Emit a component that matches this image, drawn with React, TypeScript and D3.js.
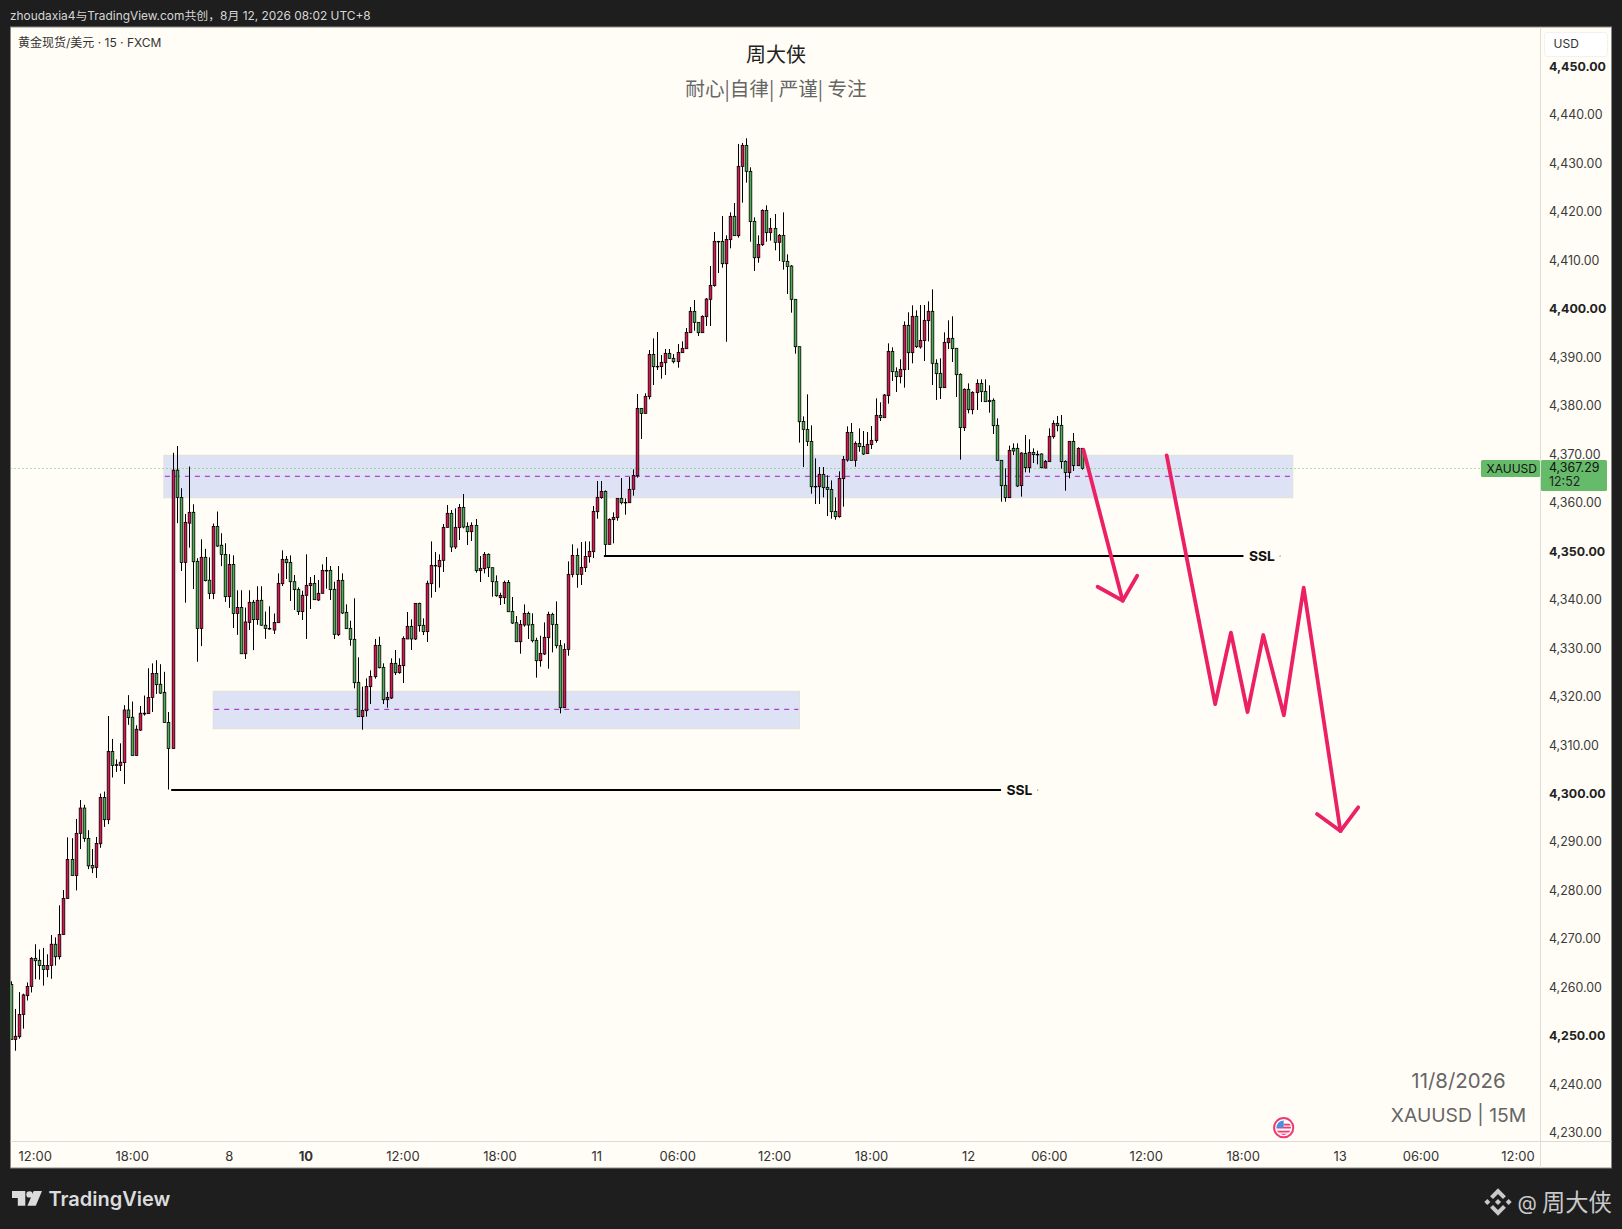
import React, { useRef, useEffect } from 'react';
import * as d3 from 'd3';

//candles, one entry per 15 min bar
const opens = [
  4260.83,4249.47,4250.05,4254.61,4258.51,4260.41,4266.21,4265.80,4264.72,4263.89,
  4264.72,4269.12,4266.55,4271.11,4278.56,4286.60,4283.29,4291.99,4297.21,4290.91,
  4285.36,4284.95,4289.84,4299.37,4294.81,4308.90,4306.16,4306.00,4306.58,4317.44,
  4315.94,4308.07,4313.29,4316.77,4316.69,4320.00,4324.98,4322.74,4321.08,4314.87,
  4309.48,4366.91,4361.28,4347.85,4355.97,4358.21,4348.10,4334.26,4348.93,4344.20,
  4341.47,4355.31,4351.42,4349.51,4340.81,4347.44,4337.33,4338.57,4329.04,4335.50,
  4339.65,4336.08,4340.06,4334.92,4334.26,4333.93,4335.45,4343.49,4348.51,4347.89,
  4343.90,4342.32,4337.72,4341.09,4343.08,4343.56,4340.12,4341.50,4346.24,4346.24,
  4342.32,4332.97,4344.18,4337.58,4334.28,4332.01,4323.14,4316.06,4317.29,4322.25,
  4324.31,4330.77,4326.23,4319.56,4319.91,4327.06,4325.13,4326.58,4332.08,4334.69,
  4332.08,4339.43,4334.90,4333.59,4343.49,4347.27,4346.98,4348.30,4355.11,4358.00,
  4351.05,4355.04,4359.23,4355.31,4354.21,4355.52,4346.17,4346.58,4349.54,4346.79,
  4343.90,4340.60,4340.60,4343.76,4337.78,4335.44,4331.52,4334.96,4337.37,4335.10,
  4331.80,4327.60,4328.98,4332.35,4337.16,4335.10,4330.70,4317.91,4329.94,4345.41,
  4349.33,4345.41,4346.79,4349.06,4350.09,4358.34,4361.23,4362.53,4351.60,4356.69,
  4357.10,4361.09,4360.26,4360.19,4362.95,4365.76,4379.65,4378.62,4382.06,4390.79,
  4388.32,4388.25,4389.07,4391.00,4389.97,4389.28,4391.14,4391.96,4395.26,4399.66,
  4397.39,4395.26,4398.56,4402.14,4404.96,4414.10,4414.10,4409.49,4414.45,4419.26,
  4415.27,4429.57,4433.90,4428.54,4418.23,4410.73,4413.41,4420.49,4415.89,4416.78,
  4413.90,4415.34,4409.98,4409.01,4402.14,4392.37,4376.97,4375.32,4372.84,4363.56,
  4363.49,4366.04,4363.36,4362.94,4358.41,4357.31,4365.15,4368.99,4374.70,4368.93,
  4372.43,4371.81,4370.31,4372.16,4373.00,4378.21,4377.73,4382.27,4391.41,4387.22,
  4386.19,4387.63,4396.78,4391.14,4398.64,4392.31,4393.62,4397.74,4399.67,4388.94,
  4386.88,4383.92,4393.20,4394.10,4392.04,4386.67,4375.67,4383.58,4379.38,4382.89,
  4384.81,4383.16,4381.31,4381.31,4376.15,4368.93,4363.77,4361.23,4371.41,4371.41,
  4363.71,4370.37,4367.42,4370.58,4370.17,4370.24,4367.35,4368.66,4373.81,4376.56,
  4376.15,4368.72,4366.39,4372.85,4367.83,4371.41,
];
const closes = [
  4249.47,4250.14,4254.61,4258.67,4260.41,4266.21,4265.72,4264.72,4263.89,4264.72,
  4269.12,4266.55,4271.11,4278.56,4286.60,4283.29,4291.99,4297.21,4290.91,4285.28,
  4284.86,4289.92,4299.37,4294.81,4308.90,4306.00,4306.00,4306.66,4317.44,4315.86,
  4308.07,4313.46,4316.77,4316.61,4320.00,4324.98,4322.66,4320.92,4314.87,4309.48,
  4366.91,4361.28,4347.85,4356.14,4358.21,4348.02,4334.26,4348.93,4344.12,4341.47,
  4355.31,4351.25,4349.51,4340.81,4347.44,4337.33,4338.57,4329.04,4335.59,4339.65,
  4336.08,4340.06,4334.92,4334.26,4334.18,4335.50,4343.56,4348.51,4347.82,4343.90,
  4342.26,4337.72,4341.09,4343.15,4343.56,4340.19,4341.50,4346.24,4346.10,4342.26,
  4333.04,4344.18,4337.44,4334.21,4332.01,4323.07,4316.06,4317.36,4322.31,4324.37,
  4330.77,4326.16,4319.56,4320.04,4327.06,4325.13,4326.65,4332.21,4334.69,4332.08,
  4339.43,4334.83,4333.59,4343.56,4347.27,4347.20,4348.30,4355.11,4358.00,4351.05,
  4355.11,4359.23,4355.18,4354.21,4355.52,4346.17,4346.65,4349.54,4346.79,4343.90,
  4341.01,4341.08,4343.76,4337.71,4335.37,4331.52,4335.10,4337.37,4334.96,4331.73,
  4327.60,4329.12,4332.42,4337.16,4335.10,4330.70,4317.91,4329.94,4345.41,4349.33,
  4345.41,4346.86,4349.12,4350.16,4358.41,4361.30,4362.53,4351.60,4356.76,4357.17,
  4361.09,4360.19,4360.19,4362.95,4365.83,4379.65,4378.62,4382.13,4390.79,4388.25,
  4388.25,4389.14,4391.00,4389.97,4389.28,4391.20,4392.03,4395.33,4399.66,4397.39,
  4395.26,4398.63,4402.20,4405.02,4414.10,4414.03,4409.49,4414.51,4419.26,4415.27,
  4429.57,4433.90,4428.54,4418.16,4410.73,4413.48,4420.49,4415.89,4416.78,4413.90,
  4415.34,4409.98,4408.94,4402.14,4392.37,4376.90,4375.32,4372.84,4363.49,4363.49,
  4366.04,4363.29,4362.94,4358.34,4357.31,4365.21,4369.13,4374.70,4368.93,4372.43,
  4371.75,4370.23,4372.23,4373.06,4378.21,4377.73,4382.41,4391.41,4387.22,4386.19,
  4387.70,4396.78,4391.14,4398.64,4392.38,4393.68,4397.81,4399.67,4388.94,4386.81,
  4383.92,4393.27,4394.10,4391.97,4386.60,4375.67,4383.58,4379.38,4382.96,4384.81,
  4383.10,4381.03,4381.03,4376.08,4368.93,4363.71,4361.23,4370.99,4370.86,4363.64,
  4370.44,4367.42,4370.58,4370.10,4370.10,4367.42,4368.72,4373.88,4376.56,4376.08,
  4368.66,4366.39,4372.85,4367.83,4371.41,4367.29,
];
const highs = [
  4261.49,4255.77,4259.25,4258.92,4261.24,4266.46,4269.12,4268.04,4268.37,4267.04,
  4271.02,4270.53,4277.15,4280.30,4291.16,4290.99,4294.97,4298.87,4297.88,4292.65,
  4288.76,4291.25,4300.20,4300.61,4316.19,4311.47,4307.24,4310.56,4318.43,4320.50,
  4319.18,4314.29,4318.26,4320.42,4326.05,4327.05,4327.71,4326.88,4325.31,4317.02,
  4370.48,4371.89,4363.18,4357.88,4367.66,4359.87,4348.76,4352.66,4350.67,4348.93,
  4355.89,4358.38,4353.90,4351.83,4349.59,4349.34,4342.13,4342.13,4338.57,4342.13,
  4340.14,4342.96,4342.96,4337.74,4338.82,4337.33,4345.62,4350.37,4349.20,4349.34,
  4345.28,4342.74,4342.05,4349.54,4344.87,4345.28,4344.25,4347.48,4348.99,4347.14,
  4343.90,4347.14,4345.62,4339.23,4335.86,4340.47,4328.30,4322.25,4323.96,4325.61,
  4332.08,4332.56,4327.06,4321.14,4328.09,4329.81,4328.09,4332.63,4337.65,4336.13,
  4339.43,4339.57,4336.34,4344.11,4352.22,4350.02,4349.54,4355.80,4359.72,4358.68,
  4359.03,4359.92,4361.98,4356.14,4356.14,4356.83,4349.19,4350.02,4349.74,4346.79,
  4345.20,4341.63,4344.11,4344.24,4340.74,4336.82,4335.99,4339.22,4337.71,4337.37,
  4332.35,4332.76,4335.51,4337.71,4337.50,4339.84,4331.87,4331.18,4348.09,4351.60,
  4350.77,4352.08,4352.22,4352.22,4359.51,4364.66,4364.66,4362.74,4356.96,4358.20,
  4361.09,4365.28,4361.09,4365.49,4367.07,4382.61,4379.65,4382.75,4391.69,4394.09,
  4395.40,4390.65,4391.89,4391.89,4390.86,4392.92,4393.47,4396.22,4400.56,4402.00,
  4397.39,4398.84,4402.41,4409.01,4416.03,4414.10,4419.33,4415.34,4420.08,4422.01,
  4434.18,4434.39,4435.35,4429.37,4419.05,4415.34,4420.70,4421.53,4418.91,4419.74,
  4415.61,4420.08,4411.42,4409.22,4402.14,4392.37,4378.00,4382.54,4376.15,4369.34,
  4367.55,4367.55,4365.83,4364.80,4361.29,4366.66,4369.82,4375.94,4376.63,4372.84,
  4375.53,4374.98,4374.77,4376.01,4381.72,4380.90,4382.61,4393.06,4392.24,4388.11,
  4389.77,4397.60,4399.46,4400.90,4399.87,4400.97,4400.97,4401.73,4404.20,4389.77,
  4389.97,4395.33,4397.81,4398.64,4392.04,4386.88,4383.78,4384.81,4383.16,4385.64,
  4385.64,4385.64,4384.40,4381.72,4377.59,4368.93,4367.28,4371.96,4372.44,4372.44,
  4370.58,4374.16,4373.26,4371.41,4370.92,4370.37,4369.00,4375.53,4377.18,4378.08,
  4378.28,4368.93,4372.85,4374.57,4371.61,4371.41,
];
const lows = [
  4249.47,4247.15,4249.64,4251.71,4257.51,4259.17,4261.91,4261.82,4260.58,4262.32,
  4261.99,4264.72,4265.97,4271.11,4278.56,4283.29,4280.22,4288.76,4290.25,4284.62,
  4283.79,4282.79,4289.01,4293.32,4293.90,4303.51,4304.67,4304.84,4302.18,4314.37,
  4308.07,4308.07,4313.12,4316.28,4316.69,4317.02,4320.75,4320.75,4314.87,4301.03,
  4309.48,4355.97,4346.11,4339.56,4350.92,4342.38,4327.38,4330.61,4343.96,4340.31,
  4340.31,4351.08,4347.11,4339.73,4338.49,4334.34,4332.93,4329.04,4327.96,4333.93,
  4329.78,4335.01,4334.84,4332.11,4334.01,4333.10,4335.45,4343.01,4344.45,4339.92,
  4338.06,4337.03,4336.00,4332.08,4338.27,4340.19,4339.92,4341.50,4342.46,4340.12,
  4332.08,4332.70,4337.23,4334.14,4330.70,4321.90,4316.06,4313.37,4316.06,4318.67,
  4323.90,4326.03,4318.67,4317.91,4319.70,4324.65,4324.93,4323.00,4332.08,4329.81,
  4331.87,4333.59,4332.90,4331.46,4340.60,4341.77,4342.67,4345.90,4355.11,4350.02,
  4350.64,4352.49,4354.90,4351.46,4352.29,4345.76,4343.83,4345.62,4344.86,4340.80,
  4340.80,4339.09,4339.29,4337.71,4335.17,4331.52,4329.05,4334.62,4332.07,4331.38,
  4324.10,4326.37,4328.77,4325.95,4329.32,4330.15,4316.74,4317.91,4328.63,4344.79,
  4342.66,4343.21,4345.89,4347.82,4348.78,4356.89,4361.02,4349.19,4351.60,4351.81,
  4356.48,4359.85,4357.72,4360.19,4361.64,4365.35,4373.33,4378.62,4381.51,4384.47,
  4387.56,4385.77,4386.53,4389.97,4388.94,4388.04,4391.14,4391.96,4395.26,4395.67,
  4394.57,4395.26,4396.64,4396.64,4404.75,4407.57,4408.67,4393.40,4412.66,4415.27,
  4414.86,4422.08,4426.20,4414.03,4407.98,4409.70,4413.14,4414.03,4414.24,4412.25,
  4410.04,4408.26,4403.24,4399.39,4390.93,4372.57,4367.55,4371.88,4362.05,4359.92,
  4359.92,4361.29,4357.44,4356.89,4356.69,4357.10,4359.37,4368.65,4368.93,4367.62,
  4370.71,4370.03,4370.24,4371.27,4372.57,4377.04,4377.73,4380.62,4385.30,4383.03,
  4384.81,4383.92,4387.56,4388.94,4392.10,4391.97,4389.42,4393.48,4384.47,4381.38,
  4381.58,4383.92,4391.90,4389.22,4382.00,4369.07,4374.98,4378.63,4378.42,4379.31,
  4380.96,4381.03,4378.76,4374.36,4368.93,4360.40,4360.40,4361.23,4370.03,4363.43,
  4361.44,4366.46,4366.39,4368.38,4368.11,4367.28,4367.28,4368.66,4373.40,4374.91,
  4367.21,4362.67,4365.22,4366.73,4367.83,4367.01,
];

//axes
const priceTicks = d3.range(4230, 4451, 10);
const boldPrices = [4250, 4300, 4350, 4400, 4450];
const timeBars = [6, 30, 54, 73, 97, 121, 145, 165, 189, 213, 237, 257, 281, 305, 329, 349, 373];
const timeLabels = ['12:00', '18:00', '8', '10', '12:00', '18:00', '11', '06:00', '12:00', '18:00', '12', '06:00', '12:00', '18:00', '13', '06:00', '12:00'];
const lastPrice = 4367.29;

//drawings on the chart, as [bar, price]
const zoneBars = [[37.8, 317.2], [50.0, 195.1]];
const zoneTops = [4369.97, 4321.29];
const zoneBottoms = [4361.22, 4313.57];
const zoneMids = [4365.64, 4317.57];
const sslBars = [[39.6, 245], [146.7, 305]];
const sslPrices = [4300.93, 4349.2];
const arrowShafts: [number, number][][] = [
  [[265.4, 4371.06], [275.1, 4339.98]],
  [[286.0, 4369.97], [298.0, 4318.67], [301.9, 4333.38], [306.0, 4317.02], [309.9, 4332.90], [315.0, 4316.34], [319.9, 4342.66], [329.0, 4292.47]],
];
const arrowHeads: [number, number][][] = [
  [[268.9, 4342.86], [275.1, 4339.98], [278.7, 4345.13]],
  [[323.2, 4295.98], [329.0, 4292.47], [333.4, 4297.36]],
];

const FONT = "Inter, 'Noto Sans CJK SC', sans-serif";
const CJK = "'Noto Sans CJK SC', Inter, sans-serif";
const UP = '#e2104f';
const DOWN = '#4caf50';
const PINK = '#ec2064';

export default function App() {
  const svgRef = useRef<SVGSVGElement>(null);

  useEffect(() => {
    if (!svgRef.current) return;
    document.body.style.margin = '0';
    document.body.style.background = '#1e1e1e';

    const svg = d3.select(svgRef.current);
    svg.selectAll('*').remove();

    const pane = { left: 10.5, right: 1611.5, top: 27, bottom: 1168 };
    const axisX = 1540.5;
    const axisY = 1141.5;

    //scales
    const x = d3.scaleLinear().domain([0, 373]).range([11.2, 1518.2]);
    const y = d3.scaleLinear().domain([4450, 4230]).range([67.3, 1133.9]);

    //frame
    svg.append('rect').attr('width', 1622).attr('height', 1229).attr('fill', '#1e1e1e');
    svg.append('rect')
      .attr('x', pane.left).attr('y', pane.top)
      .attr('width', pane.right - pane.left).attr('height', pane.bottom - pane.top)
      .attr('fill', '#fffdf6').attr('stroke', '#8a8a84').attr('stroke-width', 1);

    svg.append('defs').append('clipPath').attr('id', 'plot')
      .append('rect').attr('x', pane.left + 0.5).attr('y', pane.top)
      .attr('width', axisX - pane.left).attr('height', axisY - pane.top);

    const plot = svg.append('g').attr('clip-path', 'url(#plot)');

    //zones
    zoneBars.forEach((b, i) => {
      plot.append('rect')
        .attr('x', x(b[0])).attr('y', y(zoneTops[i]))
        .attr('width', x(b[1]) - x(b[0])).attr('height', y(zoneBottoms[i]) - y(zoneTops[i]))
        .attr('fill', '#dde3f5').attr('stroke', '#dfdfdc').attr('stroke-width', 1);
      plot.append('line')
        .attr('x1', x(b[0]) + 1).attr('x2', x(b[1]) - 1)
        .attr('y1', y(zoneMids[i])).attr('y2', y(zoneMids[i]))
        .attr('stroke', '#a51fc0').attr('stroke-width', 1).attr('stroke-dasharray', '5 5');
    });

    //last price line
    plot.append('line')
      .attr('x1', pane.left).attr('x2', 1481)
      .attr('y1', Math.floor(y(lastPrice)) + 0.5).attr('y2', Math.floor(y(lastPrice)) + 0.5)
      .attr('stroke', '#58c458').attr('stroke-width', 1).attr('stroke-dasharray', '1 3');

    //candles
    const px = (i: number) => Math.floor(x(i) + 0.2) + 0.5;
    const bars = plot.append('g').selectAll('g').data(opens).join('g');
    bars.append('line')
      .attr('x1', (_, i) => px(i)).attr('x2', (_, i) => px(i))
      .attr('y1', (_, i) => y(highs[i])).attr('y2', (_, i) => y(lows[i]))
      .attr('stroke', '#000').attr('stroke-width', 1);
    bars.append('rect')
      .attr('x', (_, i) => px(i) - 1.3)
      .attr('width', 2.6)
      .attr('y', (d, i) => y(Math.max(d, closes[i])))
      .attr('height', (d, i) => Math.max(0.6, Math.abs(y(d) - y(closes[i]))))
      .attr('fill', (d, i) => (closes[i] >= d ? UP : DOWN))
      .attr('stroke', '#000').attr('stroke-width', 0.8);

    //SSL lines
    sslBars.forEach((b, i) => {
      const yy = y(sslPrices[i]);
      plot.append('line')
        .attr('x1', x(b[0])).attr('x2', x(b[1]))
        .attr('y1', yy).attr('y2', yy)
        .attr('stroke', '#000').attr('stroke-width', 2.2);
      plot.append('text')
        .attr('x', x(b[1]) + 5.5).attr('y', yy + 5.2)
        .attr('font-family', FONT).attr('font-size', 13.8).attr('font-weight', 700)
        .attr('fill', '#111').text('SSL');
      plot.append('rect')
        .attr('x', x(b[1]) + 36).attr('y', yy - 0.5).attr('width', 1.2).attr('height', 1.2)
        .attr('fill', '#888');
    });

    //arrows
    const arrowLine = d3.line<[number, number]>().x(d => x(d[0])).y(d => y(d[1]));
    [...arrowShafts, ...arrowHeads].forEach(pts => {
      plot.append('path')
        .attr('d', arrowLine(pts))
        .attr('fill', 'none').attr('stroke', PINK).attr('stroke-width', 3.8)
        .attr('stroke-linecap', 'round').attr('stroke-linejoin', 'round');
    });

    //axis separators
    svg.append('line').attr('x1', axisX).attr('x2', axisX).attr('y1', pane.top).attr('y2', pane.bottom)
      .attr('stroke', '#dddcd6');
    svg.append('line').attr('x1', pane.left).attr('x2', pane.right).attr('y1', axisY).attr('y2', axisY)
      .attr('stroke', '#dddcd6');

    //price axis
    const yAxis = d3.axisRight(y).tickValues(priceTicks).tickSize(0).tickPadding(0)
      .tickFormat(d => d3.format(',.2f')(d as number));
    const yG = svg.append('g').attr('transform', 'translate(1549,-1)').call(yAxis);
    yG.select('.domain').remove();
    yG.selectAll('text')
      .attr('font-family', FONT).attr('font-size', 12.4)
      .attr('font-weight', (d: any) => (boldPrices.includes(d) ? 700 : 400))
      .attr('fill', (d: any) => (boldPrices.includes(d) ? '#222' : '#3a3a3a'));

    //time axis
    const xAxis = d3.axisBottom(x).tickValues(timeBars).tickSize(0).tickPadding(10.2)
      .tickFormat((_, i) => timeLabels[i]);
    const xG = svg.append('g').attr('transform', `translate(-0.7,${axisY})`).call(xAxis);
    xG.select('.domain').remove();
    xG.selectAll('text')
      .attr('font-family', FONT).attr('font-size', 13).attr('fill', '#333')
      .attr('font-weight', (_: any, i: number) => (timeLabels[i] === '10' ? 700 : 400));

    //texts
    const label = (tx: number, ty: number, s: string, size: number, fill: string, anchor = 'start', family = FONT, weight = 400) =>
      svg.append('text').attr('x', tx).attr('y', ty).attr('font-size', size).attr('fill', fill)
        .attr('text-anchor', anchor).attr('font-family', family).attr('font-weight', weight).text(s);

    label(10, 20, 'zhoudaxia4与TradingView.com共创，8月 12, 2026 08:02 UTC+8', 11.9, '#d6d6d6');
    label(18, 47, '黄金现货/美元 · 15 · FXCM', 12, '#333');
    label(776, 61.5, '周大侠', 20, '#222', 'middle', CJK);
    label(776, 95.5, '耐心|自律| 严谨| 专注', 19.6, '#666', 'middle', CJK);
    label(1458.5, 1087.5, '11/8/2026', 20.4, '#666', 'middle');
    label(1458.5, 1121.8, 'XAUUSD | 15M', 19.3, '#666', 'middle');

    //currency button
    svg.append('rect').attr('x', 1544.5).attr('y', 32.5).attr('width', 63).attr('height', 24).attr('rx', 3)
      .attr('fill', '#fff').attr('stroke', '#e6e6e0').attr('stroke-dasharray', '1 1');
    label(1553.5, 48, 'USD', 12, '#333');

    //last price tags
    svg.append('rect').attr('x', 1481).attr('y', 460).attr('width', 59).attr('height', 17).attr('rx', 1.5).attr('fill', '#66bb6a');
    svg.append('rect').attr('x', 1541).attr('y', 460).attr('width', 66).attr('height', 31).attr('rx', 1.5).attr('fill', '#66bb6a');
    label(1486.5, 472.5, 'XAUUSD', 12, '#111');
    label(1549, 472.4, d3.format(',.2f')(lastPrice), 12.4, '#111');
    label(1549, 486.4, '12:52', 12.4, '#222');

    //economic event flag
    const flag = svg.append('g').attr('transform', 'translate(1283.7,1127.7)');
    flag.append('circle').attr('r', 9.6).attr('fill', '#fff').attr('stroke', '#f03a72').attr('stroke-width', 2);
    flag.append('clipPath').attr('id', 'flagClip').append('circle').attr('r', 7.2);
    const flagG = flag.append('g').attr('clip-path', 'url(#flagClip)');
    flagG.append('rect').attr('x', -8).attr('y', -8).attr('width', 16).attr('height', 16).attr('fill', '#fff');
    [-1, 3, 6].forEach(v => {
      flagG.append('rect').attr('x', -8).attr('y', v).attr('width', 16).attr('height', 1.8).attr('fill', '#f03a72');
    });
    flagG.append('rect').attr('x', 0).attr('y', -4).attr('width', 8).attr('height', 1.8).attr('fill', '#f03a72');
    flagG.append('rect').attr('x', -8).attr('y', -8).attr('width', 8).attr('height', 8).attr('fill', '#4a90e2');

    //footer logo
    const logo = svg.append('g').attr('fill', '#dcdcdc');
    logo.append('path').attr('d', 'M12 1191H25.3V1205.7H17.8V1198H12Z');
    logo.append('circle').attr('cx', 29.5).attr('cy', 1194.4).attr('r', 3.2);
    logo.append('path').attr('d', 'M33.7 1191H42L35.8 1205.7H27.4Z');
    label(48.5, 1206, 'TradingView', 20, '#dcdcdc', 'start', FONT, 600);

    //watermark
    const bn = svg.append('g').attr('transform', 'translate(1498,1202)').attr('fill', '#c9c9c9');
    bn.append('path').attr('d', 'M0 -13.7L7.9 -5.8L5 -3L0 -8L-5 -3L-7.9 -5.8Z');
    bn.append('path').attr('d', 'M0 13.7L7.9 5.8L5 3L0 8L-5 3L-7.9 5.8Z');
    bn.append('path').attr('d', 'M-10.6 -2.9L-7.7 0L-10.6 2.9L-13.7 0Z');
    bn.append('path').attr('d', 'M10.6 -2.9L13.7 0L10.6 2.9L7.7 0Z');
    bn.append('path').attr('d', 'M0 -3.1L3.1 0L0 3.1L-3.1 0Z');
    label(1517.5, 1210, '@', 20, '#c9c9c9');
    label(1542, 1211, '周大侠', 23.3, '#c9c9c9', 'start', CJK);
  }, []);

  return (
    <div style={{ width: 1622, height: 1229, position: 'absolute', left: 0, top: 0 }}>
      <svg ref={svgRef} width={1622} height={1229} style={{ display: 'block' }} />
    </div>
  );
}
